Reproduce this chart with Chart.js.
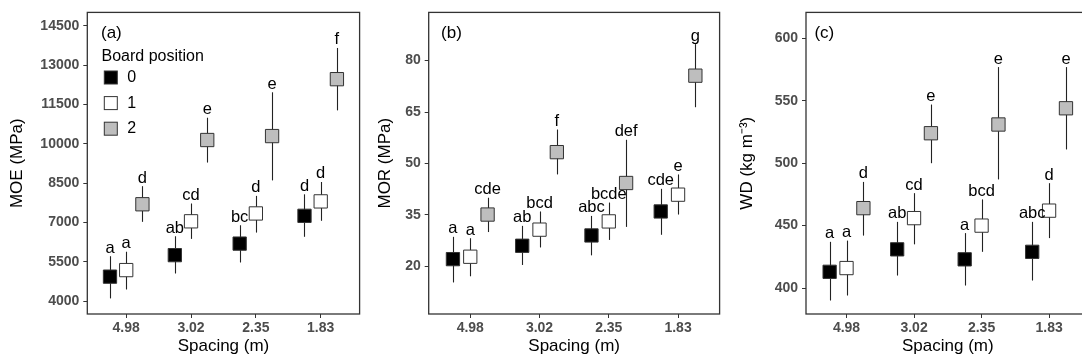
<!DOCTYPE html>
<html>
<head>
<meta charset="utf-8">
<script src="https://cdn.jsdelivr.net/npm/chart.js@4"></script>
<style>
html, body { margin: 0; padding: 0; background: #fff; overflow: hidden; width: 1082px; height: 361px; }
canvas { position: absolute; top: 0; }
</style>
</head>
<body>
<canvas id="chartA" width="370" height="361" style="left:0px"></canvas>
<canvas id="chartB" width="360" height="361" style="left:370px"></canvas>
<canvas id="chartC" width="370" height="361" style="left:730px"></canvas>
<script>
// categories / series
const spacing = ['4.98', '3.02', '2.35', '1.83'];
const positions = ['0', '1', '2'];
const fills = ['#000000', '#ffffff', '#bebebe'];

// (a) MOE  - rows = board position 0,1,2
const moeMean = [[4930, 5750, 6190, 7250], [5180, 7040, 7340, 7800], [7690, 10140, 10290, 12460]];
const moeLow  = [[4100, 5050, 5470, 6450], [4440, 6370, 6610, 7060], [7020, 9280, 8600, 11270]];
const moeHigh = [[5710, 6470, 6890, 8070], [5880, 7720, 8010, 8540], [8380, 10990, 11960, 13650]];
const moeLetters = [['a', 'ab', 'bc', 'd'], ['a', 'cd', 'd', 'd'], ['d', 'e', 'e', 'f']];
const moeTicks = [4000, 5500, 7000, 8500, 10000, 11500, 13000, 14500];

// (b) MOR
const morMean = [[22.1, 26.0, 29.0, 36.0], [22.8, 30.7, 33.1, 40.9], [35.1, 53.3, 44.3, 75.6]];
const morLow  = [[15.3, 20.4, 23.2, 29.2], [17.1, 25.5, 27.7, 35.1], [30.0, 46.8, 31.5, 66.4]];
const morHigh = [[28.6, 31.8, 34.7, 42.6], [28.2, 36.0, 38.6, 46.8], [40.0, 59.9, 56.9, 84.8]];
const morLetters = [['a', 'ab', 'abc', 'cde'], ['a', 'bcd', 'bcde', 'e'], ['cde', 'f', 'def', 'g']];
const morTicks = [20, 35, 50, 65, 80];

// (c) WD
const wdMean = [[413, 431, 423, 429], [416, 456, 450, 462], [464, 524, 531, 544]];
const wdLow  = [[390, 410, 402, 406], [394, 435, 429, 440], [442, 500, 487, 511]];
const wdHigh = [[437, 453, 444, 453], [438, 476, 471, 484], [485, 547, 577, 577]];
const wdLetters = [['a', 'ab', 'a', 'abc'], ['a', 'cd', 'bcd', 'd'], ['d', 'e', 'e', 'e']];
const wdTicks = [400, 450, 500, 550, 600];

const DODGE = 0.25;
const FONT = "'Liberation Sans', Arial, sans-serif";
Chart.defaults.font.family = FONT;

function xOf(s, i) { return i + 1 + (s - 1) * DODGE; }

// error bars, letters, frame, tag, legend
const extras = {
  id: 'extras',
  beforeDatasetsDraw(chart) {
    const o = chart.options.plugins.extras;
    const ctx = chart.ctx, xs = chart.scales.x, ys = chart.scales.y;
    ctx.save();
    ctx.strokeStyle = '#222';
    ctx.lineWidth = 1.1;
    o.low.forEach((row, s) => row.forEach((lo, i) => {
      const px = Math.round(xs.getPixelForValue(xOf(s, i))) + 0.5;
      ctx.beginPath();
      ctx.moveTo(px, ys.getPixelForValue(lo));
      ctx.lineTo(px, ys.getPixelForValue(o.high[s][i]));
      ctx.stroke();
    }));
    ctx.restore();
  },
  afterDatasetsDraw(chart) {
    const o = chart.options.plugins.extras;
    const ctx = chart.ctx, xs = chart.scales.x, ys = chart.scales.y;
    const a = chart.chartArea;
    ctx.save();
    ctx.fillStyle = '#000';
    ctx.font = '16.5px ' + FONT;
    ctx.textAlign = 'center';
    ctx.textBaseline = 'alphabetic';
    o.letters.forEach((row, s) => row.forEach((t, i) => {
      ctx.fillText(t, xs.getPixelForValue(xOf(s, i)), ys.getPixelForValue(o.high[s][i]) - 3.5);
    }));
    // frame
    ctx.strokeStyle = '#333';
    ctx.lineWidth = 1.3;
    ctx.strokeRect(a.left, a.top, a.right - a.left, a.bottom - a.top);
    // panel tag
    ctx.textAlign = 'left';
    ctx.textBaseline = 'middle';
    ctx.font = '17px ' + FONT;
    ctx.fillText(o.tag, a.left + o.tagDx, 33);
    if (o.legend) {
      ctx.font = '16px ' + FONT;
      ctx.fillText('Board position', a.left + 14.2, 57);
      positions.forEach((p, s) => {
        const cy = 77.5 + s * 25.6;
        ctx.fillStyle = fills[s];
        ctx.fillRect(a.left + 17, cy - 6.5, 13, 13);
        ctx.strokeStyle = '#333';
        ctx.lineWidth = 1;
        ctx.strokeRect(a.left + 17, cy - 6.5, 13, 13);
        ctx.fillStyle = '#000';
        ctx.fillText(p, a.left + 40, cy);
      });
    }
    ctx.restore();
  }
};

function makePanel(id, cfg) {
  const datasets = cfg.mean.map((row, s) => ({
    label: positions[s],
    data: row.map((v, i) => ({ x: xOf(s, i), y: v })),
    pointStyle: 'rect',
    pointRadius: 9.4,
    backgroundColor: fills[s],
    borderColor: '#333',
    borderWidth: 1,
    showLine: false
  }));
  const axisTicks = { color: '#4d4d4d', font: { size: 14, weight: 'bold' } };
  const grid = { drawOnChartArea: false, tickLength: 4, color: '#333', lineWidth: 1 };
  return new Chart(document.getElementById(id), {
    type: 'scatter',
    data: { datasets },
    options: {
      responsive: false,
      animation: false,
      events: [],
      layout: { padding: { top: 11.7, right: cfg.rightPad, left: 0, bottom: 0 } },
      scales: {
        x: {
          type: 'linear', min: 0.4, max: 4.6,
          afterBuildTicks: s => { s.ticks = spacing.map((_, i) => ({ value: i + 1 })); },
          afterFit: s => { s.height = 47; },
          ticks: { ...axisTicks, padding: 1.5, maxRotation: 0, callback: (v, i) => spacing[i] },
          grid, border: { display: false },
          title: { display: true, text: 'Spacing (m)', color: '#000', font: { size: 17 }, padding: { top: 0, bottom: 4 } }
        },
        y: {
          min: cfg.min, max: cfg.max,
          afterBuildTicks: s => { s.ticks = cfg.ticks.map(v => ({ value: v })); },
          afterFit: s => { s.width = cfg.yWidth; },
          ticks: { ...axisTicks, padding: 4, callback: v => String(v) },
          grid, border: { display: false },
          title: { display: true, text: cfg.title, color: '#000', font: { size: 17 }, padding: { top: cfg.titlePad, bottom: 0 } }
        }
      },
      plugins: {
        legend: { display: false },
        tooltip: { enabled: false },
        extras: { low: cfg.low, high: cfg.high, letters: cfg.letters, tag: cfg.tag, tagDx: cfg.tagDx, legend: cfg.legend }
      }
    },
    plugins: [extras]
  });
}

makePanel('chartA', { mean: moeMean, low: moeLow, high: moeHigh, letters: moeLetters, ticks: moeTicks,
  min: 3506, max: 15006, title: 'MOE (MPa)', yWidth: 87.3, rightPad: 7.3, titlePad: 7.6, tag: '(a)', tagDx: 13.7, legend: true });
makePanel('chartB', { mean: morMean, low: morLow, high: morHigh, letters: morLetters, ticks: morTicks,
  min: 6.1, max: 94.05, title: 'MOR (MPa)', yWidth: 58.7, rightPad: 3.3, titlePad: 5.6, tag: '(b)', tagDx: 12.4, legend: false });
makePanel('chartC', { mean: wdMean, low: wdLow, high: wdHigh, letters: wdLetters, ticks: wdTicks,
  min: 379.2, max: 620.8, title: 'WD (kg m\u207B\u00B3)', yWidth: 76, rightPad: 9, titlePad: 7.6, tag: '(c)', tagDx: 8.4, legend: false });
</script>
</body>
</html>
